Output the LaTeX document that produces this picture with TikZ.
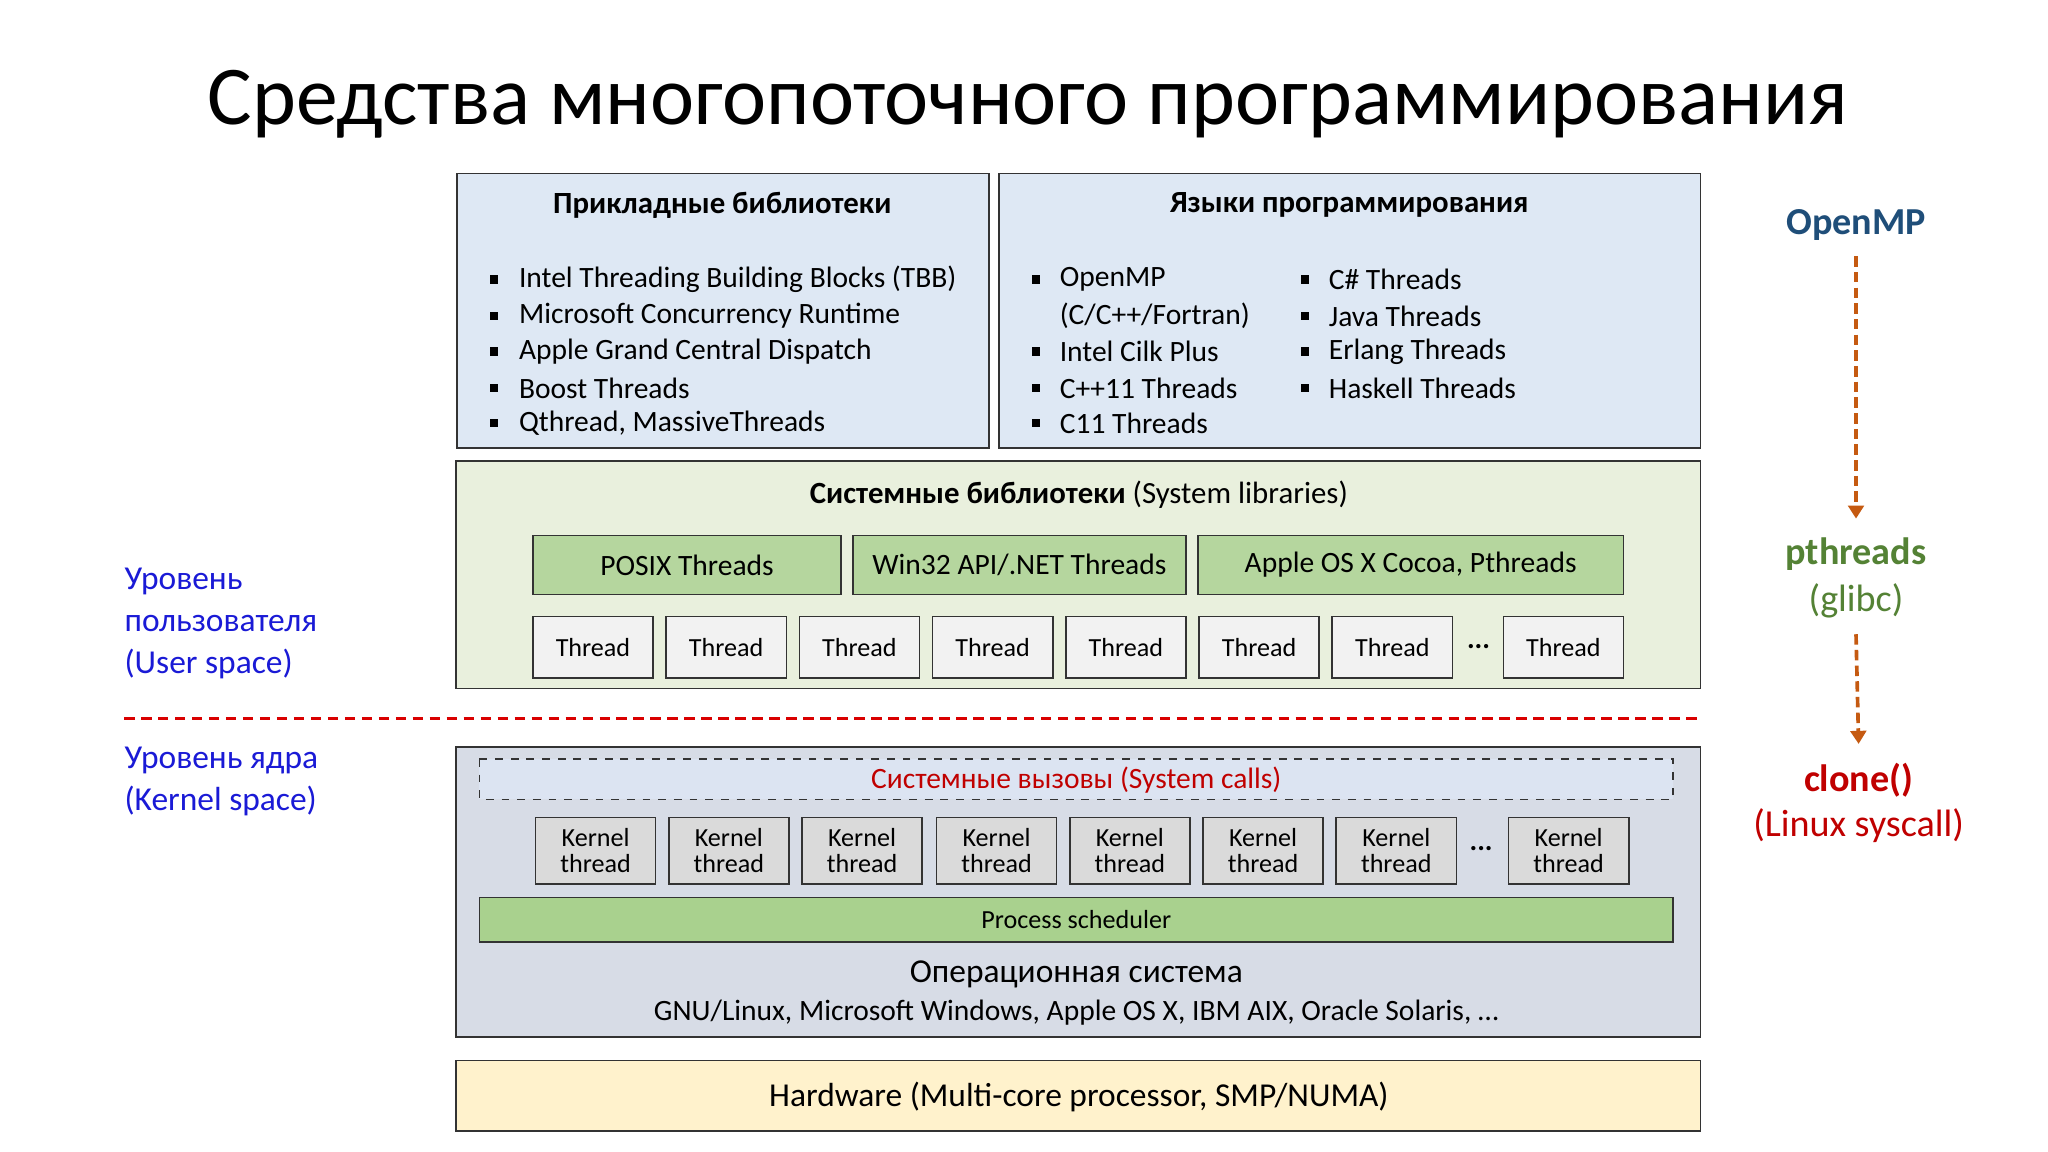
\documentclass[tikz,border=0pt]{standalone}
\usepackage{fontspec}
\setmainfont{Carlito}
\usetikzlibrary{arrows.meta}
\definecolor{bluebg}{HTML}{DEE8F4}
\definecolor{greenbg}{HTML}{E9F0DD}
\definecolor{greenbox}{HTML}{B5D69E}
\definecolor{threadbg}{HTML}{F2F2F2}
\definecolor{kernbg}{HTML}{D7DCE6}
\definecolor{callbg}{HTML}{DCE4F2}
\definecolor{kthbg}{HTML}{DADADA}
\definecolor{sched}{HTML}{A9D18E}
\definecolor{hwbg}{HTML}{FFF2CC}
\definecolor{dred}{HTML}{C00000}
\definecolor{ublue}{HTML}{1A1AD6}
\definecolor{ompc}{HTML}{1F4E79}
\definecolor{pthc}{HTML}{548235}
\definecolor{arrc}{HTML}{C55A11}
\tikzset{
 panel/.style={draw=black!80,line width=0.6pt},
 gbox/.style={draw=black!80,fill=greenbox,line width=0.6pt,font=\fontsize{11.3}{13}\selectfont},
 thbox/.style={draw=black!80,fill=threadbg,line width=0.6pt,font=\fontsize{10}{12}\selectfont},
 kthbox/.style={draw=black!80,fill=kthbg,line width=0.6pt,font=\fontsize{10}{12}\selectfont,align=center},
 txt/.style={font=\fontsize{11.3}{13}\selectfont,anchor=west,inner sep=0pt},
 bul/.style={fill=black,inner sep=0pt,minimum size=3.2pt},
 lab/.style={font=\fontsize{12.8}{15}\selectfont,anchor=west,inner sep=0pt,text=ublue},
 rlab/.style={font=\fontsize{14.6}{17}\selectfont,inner sep=0pt},
 darr/.style={arrc,line width=1.4pt,dash pattern=on 4pt off 2pt,-{Triangle[length=5pt,width=6pt]}}
}
\begin{document}
\begin{tikzpicture}[x=0.5pt,y=-0.5pt]
\useasboundingbox (0,0) rectangle (1568,882);
\fill[white] (0,0) rectangle (1568,882);
\node (title) at (787,80) {\fontsize{32}{36}\selectfont Средства многопоточного программирования};
% app libraries
\draw[panel,fill=bluebg] (350,133) rectangle (757,343);
\node[font=\bfseries\fontsize{11.8}{13}\selectfont] (t1) at (553,157) {Прикладные библиотеки};
\foreach \y/\s in {214/Intel Threading Building Blocks (TBB),242/Microsoft Concurrency Runtime,269/Apple Grand Central Dispatch,297/Boost Threads,324/{Qthread, MassiveThreads}}{
 \node[bul] at (378,\y) {};
 \node[txt] at (397,\y) {\s};}
\draw[panel,fill=bluebg] (765,133) rectangle (1302,343);
\node[font=\bfseries\fontsize{11.8}{13}\selectfont] (t2) at (1033,157) {Языки программирования};
\foreach \y/\s in {214/OpenMP,269/Intel Cilk Plus,297/C++11 Threads,324/C11 Threads}{
 \node[bul] at (793,\y) {};
 \node[txt] at (811,\y) {\s};}
\node[txt] at (811,242) {(C/C++/Fortran)};
\foreach \y/\s in {214/C\# Threads,242/Java Threads,269/Erlang Threads,297/Haskell Threads}{
 \node[bul] at (999,\y) {};
 \node[txt] at (1017,\y) {\s};}
% system libraries
\draw[panel,fill=greenbg] (349,353) rectangle (1302,527);
\node[font=\fontsize{11.8}{13}\selectfont] (t3) at (826,379) {\textbf{Системные библиотеки} (System libraries)};
\node[gbox,minimum width=118pt,minimum height=22.5pt] (posix) at (526,432.5) {POSIX Threads};
\node[gbox,minimum width=127.5pt,minimum height=22.5pt] (win) at (780.5,432.5) {Win32 API/.NET Threads};
\node[gbox,minimum width=163pt,minimum height=22.5pt] (apple) at (1080,432.5) {Apple OS X Cocoa, Pthreads};
\foreach \x [count=\i] in {454,556,658,760,862,964,1066,1197}{
 \node[thbox,minimum width=46pt,minimum height=23.5pt] (th\i) at (\x,495.5) {Thread};}
\node[font=\bfseries\fontsize{11}{12}\selectfont] (dots1) at (1132,495) {...};
% separator
\draw[red!85!black,line width=1.2pt,dash pattern=on 4pt off 2.5pt] (95,550) -- (1303,550);
\node[lab] (u1) at (95,445) {Уровень};
\node[lab] (u2) at (95,477) {пользователя};
\node[lab] (u3) at (95,508) {(User space)};
\node[lab] (k1) at (95,582) {Уровень ядра};
\node[lab] (k2) at (95,613) {(Kernel space)};
% kernel
\draw[panel,fill=kernbg] (349,572) rectangle (1302,794);
\draw[black!80,dashed,fill=callbg,line width=0.6pt] (367,581) rectangle (1281,612);
\node[font=\fontsize{11.3}{13}\selectfont,text=dred] (calls) at (824,597) {Системные вызовы (System calls)};
\foreach \x [count=\i] in {456,558,660,763,865,967,1069,1201}{
 \node[kthbox,minimum width=46pt,minimum height=25.5pt,inner sep=1pt] (kt\i) at (\x,651.5) {Kernel\\[-2pt]thread};}
\node[font=\bfseries\fontsize{11}{12}\selectfont] (dots2) at (1134,650) {...};
\node[draw=black!80,fill=sched,line width=0.6pt,minimum width=457pt,minimum height=17pt,font=\fontsize{10}{12}\selectfont] (ps) at (824,704) {Process scheduler};
\node[font=\fontsize{12.8}{15}\selectfont] (os) at (824,746) {Операционная система};
\node[font=\fontsize{11.3}{13}\selectfont] (os2) at (824,775) {GNU/Linux, Microsoft Windows, Apple OS X, IBM AIX, Oracle Solaris, …};
% hardware
\draw[panel,fill=hwbg] (349,812) rectangle (1302,866);
\node[font=\fontsize{12.8}{15}\selectfont] (hw) at (826,840) {Hardware (Multi-core processor, SMP/NUMA)};
% right
\node[rlab,text=ompc,font=\bfseries\fontsize{14.6}{17}\selectfont] (omp) at (1421,172) {OpenMP};
\node[rlab,text=pthc,font=\bfseries\fontsize{14.6}{17}\selectfont] (pth) at (1421,424) {pthreads};
\node[rlab,text=pthc] (glibc) at (1421,460) {(glibc)};
\node[rlab,text=dred,font=\bfseries\fontsize{14.6}{17}\selectfont] (clone) at (1423,597) {clone()};
\node[rlab,text=dred] (sys) at (1423,632) {(Linux syscall)};
\draw[darr] ([yshift=-6pt]omp.south) -- ([yshift=7pt]pth.north);
\draw[darr] ([yshift=-6pt]glibc.south) -- ([yshift=7pt]clone.north);
\end{tikzpicture}
\end{document}
